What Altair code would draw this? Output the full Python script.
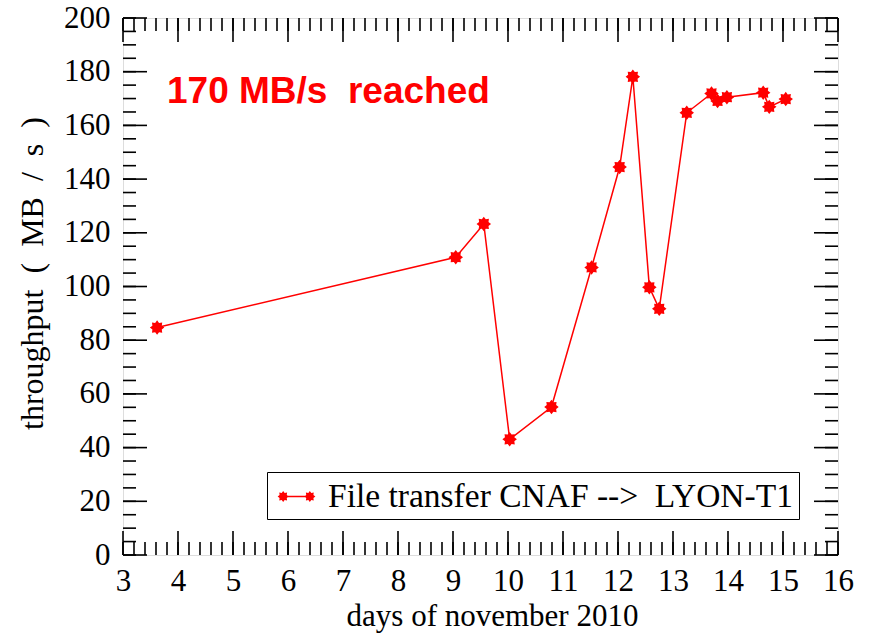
import math
import altair as alt
import pandas as pd

# ---- data ----
days = [3.62, 9.05, 9.56, 10.03, 10.79, 11.52, 12.03, 12.27, 12.57, 12.75,
        13.25, 13.70, 13.81, 13.98, 14.64, 14.75, 15.05]
throughput = [84.7, 110.9, 123.3, 43.1, 55.1, 107.1, 144.5, 178.1, 99.7, 91.7,
              164.7, 171.9, 169.1, 170.5, 172.2, 166.9, 169.8]
NB = "\u00a0"
series_name = "File transfer CNAF -->" + NB + " LYON-T1"
x_ticks = list(range(3, 17))
y_ticks = list(range(0, 201, 20))
x_minor = [round(3 + 0.2 * i, 2) for i in range(66)]
y_minor = list(range(0, 201, 5))
annotation_text = "170 MB/s" + NB + " reached"
annotation_pos = {"x": [3.8], "y": [168.3]}
y_title = ("throughput" + NB + " (" + NB + " MB" + NB + " /" + NB + " s" + NB + " )")

W, H = 715, 537
RED = "#ff0000"
SERIF = "Liberation Serif"


def star_path(cx, cy, ro, ri, n=8):
    pts = []
    for k in range(2 * n):
        a = math.pi * k / n
        r = ro if k % 2 == 0 else ri
        pts.append(f"{cx + r * math.cos(a):.3f},{cy + r * math.sin(a):.3f}")
    return "M" + " L".join(pts) + " Z"


marker = star_path(0, 0, 1, 0.7)
legend_symbol = (star_path(-0.72, 0, 0.3, 0.21) + " " +
                 "M-0.6,-0.045 L0.6,-0.045 L0.6,0.045 L-0.6,0.045 Z " +
                 star_path(0.72, 0, 0.3, 0.21))

xs = alt.Scale(domain=[3, 16], nice=False, zero=False)
ys = alt.Scale(domain=[0, 200], nice=False, zero=False)

df = pd.DataFrame({"day": days, "tp": throughput, "series": series_name})

x_axis = alt.Axis(values=x_ticks, ticks=False, domain=False, grid=False,
                  labelFont=SERIF, labelFontSize=31, labelColor="black",
                  labelPadding=11, labelFlush=False, labelOverlap=False,
                  title="days of november 2010", titleFont=SERIF,
                  titleFontSize=31, titleFontWeight="normal", titleColor="black",
                  titleX=369, titleY=70, titleAlign="center",
                  titleBaseline="alphabetic")
y_axis = alt.Axis(values=y_ticks, ticks=False, domain=False, grid=False,
                  labelFont=SERIF, labelFontSize=31, labelColor="black",
                  labelPadding=13, labelFlush=False, labelOverlap=False,
                  title=y_title, titleFont=SERIF,
                  titleFontSize=32, titleFontWeight="normal", titleColor="black",
                  titleAngle=270, titleX=-81, titleY=255, titleAlign="center",
                  titleBaseline="alphabetic")


def X(field):
    return alt.X(field, scale=xs, axis=x_axis)


def Y(field):
    return alt.Y(field, scale=ys, axis=y_axis)


line = alt.Chart(df).mark_line(color=RED, strokeWidth=1.5).encode(
    x=X("day:Q"), y=Y("tp:Q"))

points = alt.Chart(df).mark_point(shape=marker, filled=True, size=210,
                                  opacity=1, strokeWidth=0).encode(
    x=X("day:Q"),
    y=Y("tp:Q"),
    color=alt.Color("series:N", scale=alt.Scale(range=[RED]),
                    legend=alt.Legend(title=None, orient="none",
                                      legendX=144, legendY=454,
                                      strokeColor="black",
                                      padding=6, symbolType=legend_symbol,
                                      symbolSize=1369, symbolFillColor=RED,
                                      symbolStrokeWidth=0, symbolOpacity=1,
                                      labelFont=SERIF, labelFontSize=33.5,
                                      labelColor="black", labelLimit=0,
                                      labelOffset=13, symbolOffset=5)),
)

annot = alt.Chart(pd.DataFrame({**annotation_pos, "t": [annotation_text]})).mark_text(
    align="left", baseline="alphabetic", font="Liberation Sans",
    fontWeight="bold", fontSize=37, color=RED).encode(
    x=X("x:Q"), y=Y("y:Q"), text="t:N")


def x_tick_layers(vals, length):
    base = alt.Chart(pd.DataFrame({"v": vals})).mark_rule(color="black", strokeWidth=1.6)
    bottom = base.encode(x=X("v:Q"), y=alt.value(H), y2=alt.value(H - length))
    top = base.encode(x=X("v:Q"), y=alt.value(0), y2=alt.value(length))
    return [bottom, top]


def y_tick_layers(vals, length):
    base = alt.Chart(pd.DataFrame({"v": vals})).mark_rule(color="black", strokeWidth=1.6)
    left = base.encode(y=Y("v:Q"), x=alt.value(0), x2=alt.value(length))
    right = base.encode(y=Y("v:Q"), x=alt.value(W), x2=alt.value(W - length))
    return [left, right]


tick_layers = (x_tick_layers(x_minor, 13) + x_tick_layers(x_ticks, 24) +
               y_tick_layers(y_minor, 13) + y_tick_layers(y_ticks, 24))

chart = alt.layer(line, *tick_layers, points, annot).properties(
    width=W, height=H,
    autosize=alt.AutoSizeParams(type="none"),
    padding={"left": 123, "top": 18, "right": 33, "bottom": 80},
).configure_view(stroke="black", strokeWidth=2).configure_legend(
    strokeWidth=2).configure(background="white")

chart.save("out.html", embed_options={"renderer": "svg", "actions": False})
